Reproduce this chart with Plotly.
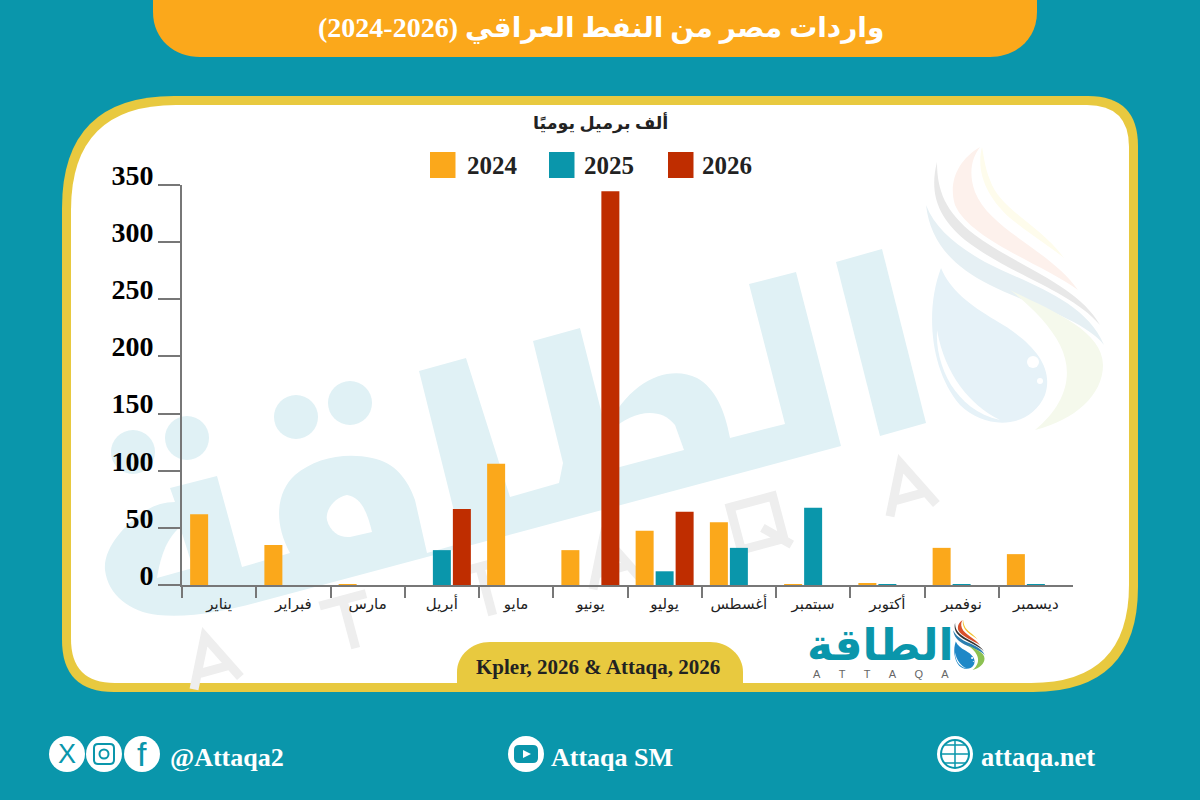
import re
import plotly.graph_objects as go

# %% Данные
months = ['يناير', 'فبراير', 'مارس', 'أبريل', 'مايو', 'يونيو',
          'يوليو', 'أغسطس', 'سبتمبر', 'أكتوبر', 'نوفمبر', 'ديسمبر']
years = ['2024', '2025', '2026']
v2024 = [62, 35, 0.2, 0, 106, 30.5, 47.5, 55, 0.2, 1.5, 32.5, 27]
v2025 = [0, 0, 0, 30.5, 0, 0, 12, 32.5, 67.5, 0.1, 0.1, 0.1]
v2026 = [0, 0, 0, 66.5, 0, 344.5, 64, None, None, None, None, None]
yticks = [0, 50, 100, 150, 200, 250, 300, 350]

ORANGE = '#FBA81B'
TEAL = '#0A96AB'
RED = '#BF2D00'
YELLOW = '#E8C93F'
PALE = '#E0F1F5'
AXIS = '#777777'
SERIF = 'Liberation Serif, DejaVu Sans'
colors = [ORANGE, TEAL, RED]
W, H = 1200, 800


# %% Пиксели -> paper
def px(x, y):
    return x / W, 1 - y / H


def path(d):
    def repl(m):
        x, y = px(float(m.group(1)), float(m.group(2)))
        return f'{x:.5f},{y:.5f}'
    return re.sub(r'(-?[\d.]+),(-?[\d.]+)', repl, d)


shapes = []
notes = []


def fill(d, color, layer='below'):
    shapes.append(dict(type='path', xref='paper', yref='paper', path=path(d),
                       fillcolor=color, line_width=0, layer=layer))


def stroke(d, color, width, layer='below'):
    shapes.append(dict(type='path', xref='paper', yref='paper', path=path(d),
                       line=dict(color=color, width=width), layer=layer))


def disc(cx, cy, r, color, layer='below', line=None, lw=0):
    x0, y0 = px(cx - r, cy - r)
    x1, y1 = px(cx + r, cy + r)
    shapes.append(dict(type='circle', xref='paper', yref='paper', x0=x0, y0=y0, x1=x1, y1=y1,
                       fillcolor=color, layer=layer, line=dict(color=line or color, width=lw)))


def rect(x0, y0, x1, y1, color, layer='below'):
    a, b = px(x0, y0)
    c, d = px(x1, y1)
    shapes.append(dict(type='rect', xref='paper', yref='paper', x0=a, y0=b, x1=c, y1=d,
                       fillcolor=color, line_width=0, layer=layer))


def label(x, y, text, size, color, anchor='center', family=SERIF, weight='bold'):
    a, b = px(x, y)
    notes.append(dict(x=a, y=b, xref='paper', yref='paper', text=text, showarrow=False,
                      xanchor=anchor, yanchor='middle',
                      font=dict(family=family, size=size, color=color, weight=weight)))


def frame(l, t, r, b, tl, tr, br, bl, color):
    fill(f'M {l+tl},{t} L {r-tr},{t} Q {r},{t} {r},{t+tr} L {r},{b-br} Q {r},{b} {r-br},{b} '
         f'L {l+bl},{b} Q {l},{b} {l},{b-bl} L {l},{t+tl} Q {l},{t} {l+tl},{t} Z', color)


# %% Рамки
fill('M 153,0 L 1037,0 L 1037,12 C 1037,40 1015,57 990,57 L 200,57 C 175,57 153,40 153,12 Z', ORANGE)
frame(62, 96, 1138, 692, 112, 50, 105, 52, YELLOW)
frame(71, 105, 1129, 683, 105, 42, 98, 44, 'white')
fill('M 457,683 L 457,672 C 457,655 472,642 490,642 L 710,642 C 728,642 743,655 743,672 L 743,683 Z', YELLOW)

# %% Водяной знак
fill('M 836,262 L 882,249 L 926,423 L 880,436 Z', PALE)
fill('M 749,284 L 796,272 L 841,446 L 255,603 C 225,611 190,618 158,615 C 130,612 108,595 105,570 '
     'C 103,548 125,525 142,513 C 152,506 163,502 175,502 L 170,488 L 217,476 L 242,567 L 290,553 '
     'C 272,520 278,490 295,475 C 315,458 345,452 372,458 C 395,462 408,480 415,500 L 427,553 '
     'L 462,543 L 419,371 L 466,358 L 510,497 L 559,483 L 563,463 L 533,341 L 580,328 L 606,430 '
     'C 630,378 670,365 697,378 C 715,388 725,410 730,438 L 785,424 Z', PALE)
fill('M 347,495 C 335,497 325,510 327,520 C 330,532 340,538 350,537 L 372,532 C 368,515 362,497 347,495 Z', 'white')
fill('M 612,430 C 630,412 660,405 675,425 L 684,450 L 616,468 Z', 'white')
fill('M 180,527 C 165,540 160,560 157,578 L 193,568 Z', 'white')
for cx, cy in [(133, 452), (187, 438), (296, 417), (350, 403)]:
    disc(cx, cy, 22, PALE)

# %% Буквы ATTAQA на фоне
GHOST = '#EEEEEE'
for cx, cy, ch in [(211, 660, 'A'), (349, 623, 'T'), (486, 590, 'T'),
                   (610, 560, 'A'), (757, 523, 'Q'), (907, 487, 'A')]:
    def g(u, v):
        return f'{cx + 0.966 * u + 0.259 * v:.1f},{cy - 0.259 * u + 0.966 * v:.1f}'
    if ch == 'A':
        stroke(f'M {g(-24, 24)} L {g(0, -24)} L {g(24, 24)} M {g(-14, 10)} L {g(14, 10)}', GHOST, 9)
    elif ch == 'T':
        stroke(f'M {g(-24, -24)} L {g(24, -24)} M {g(0, -24)} L {g(0, 26)}', GHOST, 9)
    else:
        stroke(f'M {g(-22, -22)} L {g(22, -22)} L {g(22, 22)} L {g(-22, 22)} Z '
               f'M {g(4, 6)} L {g(28, 30)}', GHOST, 9)


# %% Логотип: те же контуры в двух масштабах
def drop_logo(x0, y0, s, cols):
    def t(d):
        return re.sub(r'(-?[\d.]+),(-?[\d.]+)',
                      lambda m: f'{x0 + s * (float(m.group(1)) - 925):.1f},{y0 + s * (float(m.group(2)) - 147):.1f}', d)
    fill(t('M 982,147 C 975,175 990,200 1010,218 C 1035,238 1055,250 1064,258 C 1040,225 1000,210 990,180 C 985,168 984,157 982,147 Z'), cols[0])
    fill(t('M 980,147 C 958,160 948,182 955,205 C 970,240 1045,265 1078,290 C 1050,250 990,230 975,192 C 968,172 972,158 980,147 Z'), cols[1])
    fill(t('M 937,162 C 930,190 935,215 965,240 C 1010,275 1070,290 1100,325 C 1078,285 1015,265 975,235 C 945,212 937,190 937,162 Z'), cols[2])
    fill(t('M 926,205 C 930,240 950,265 990,285 C 1030,305 1085,320 1104,345 C 1085,300 1030,285 985,262 C 955,245 935,228 926,205 Z'), cols[3])
    fill(t('M 1010,290 C 1050,310 1103,330 1103,365 C 1103,395 1075,420 1035,430 C 1065,405 1075,375 1060,345 C 1050,325 1030,305 1010,290 Z'), cols[4])
    fill(t('M 941,268 C 925,310 930,370 960,405 C 985,430 1030,430 1045,395 C 1055,365 1030,340 995,320 C 970,305 950,290 941,268 Z'), cols[5])
    fill(t('M 937,330 C 935,365 955,410 1000,420 C 970,405 945,375 937,330 Z'), cols[6])
    disc(x0 + s * (1033 - 925), y0 + s * (362 - 147), s * 6, cols[6])
    disc(x0 + s * (1040 - 925), y0 + s * (381 - 147), s * 3, cols[6])


drop_logo(925, 147, 1.0, ['#FEFCEC', '#FDF1EC', '#E8E8E8', '#E6F0F4', '#F5F9EC', '#E6F2F8', 'white'])
drop_logo(953, 620, 0.177, ['#F2C230', '#D9502B', '#333333', '#2B7FB0', '#8CC152', '#1E88C7', 'white'])
label(880, 644, 'الطاقة', 44, TEAL, family='DejaVu Sans')
nb = '\u00a0' * 6
label(881, 674, nb.join('ATTAQA'), 11, '#666666', family='Liberation Sans', weight='normal')

# %% Заголовки
label(601, 28, '\u202bواردات مصر من النفط العراقي (2026-2024)\u202c', 28, 'white')
label(600, 123, 'ألف برميل يوميًا', 17.5, '#222222')
label(598, 667, 'Kpler, 2026 & Attaqa, 2026', 21, '#222222')

# %% Легенда
for year, col, sx, tx in zip(years, colors, [430, 549, 668], [465, 582, 700]):
    rect(sx, 152, sx + 25.5, 178, col)
    label(tx, 165, year, 25, '#222222', anchor='left')

# %% Низ страницы
for cx in [67, 104, 142, 526, 955]:
    disc(cx, 754, 18, 'white')
label(67, 754, 'X', 27, TEAL, family='Liberation Sans', weight='normal')
stroke('M 98,744 L 110,744 Q 114,744 114,748 L 114,760 Q 114,764 110,764 L 98,764 Q 94,764 94,760 L 94,748 Q 94,744 98,744 Z', TEAL, 2)
disc(104, 754, 4.5, 'white', line=TEAL, lw=2)
label(142, 754, 'f', 34, TEAL, family='Liberation Sans', weight='normal')
fill('M 519,745 L 533,745 Q 538,745 538,750 L 538,758 Q 538,763 533,763 L 519,763 Q 514,763 514,758 L 514,750 Q 514,745 519,745 Z', TEAL)
fill('M 523,750 L 531,754 L 523,758 Z', 'white')
disc(955, 754, 14, 'white', line=TEAL, lw=2)
stroke('M 941,754 L 969,754 M 955,740 L 955,768 M 945,745 L 965,745 M 945,763 L 965,763', TEAL, 1.5)
label(168, 757, '@Attaqa2', 26, 'white', anchor='left')
label(549, 757, 'Attaqa SM', 26, 'white', anchor='left')
label(979, 757, 'attaqa.net', 26.5, 'white', anchor='left')

# %% График
fig = go.Figure()
for year, values, col in zip(years, [v2024, v2025, v2026], colors):
    fig.add_bar(x=months, y=values, name=year, marker_color=col, marker_line_width=0)

fig.update_layout(
    width=W, height=H,
    margin=dict(l=0, r=0, t=0, b=0),
    paper_bgcolor=TEAL, plot_bgcolor='rgba(0,0,0,0)',
    barmode='group', bargap=0.192, bargroupgap=0.1,
    showlegend=False,
    shapes=shapes, annotations=notes,
    xaxis=dict(domain=[182 / W, 1073 / W], automargin=False, tickmode='array', tickvals=months, ticktext=months,
               tickson='boundaries', ticks='outside', ticklen=11, tickwidth=1.5, tickcolor=AXIS,
               showline=True, linecolor=AXIS, linewidth=2, showgrid=False, ticklabelstandoff=4,
               tickfont=dict(family='DejaVu Sans', size=15, color='#222222')),
    yaxis=dict(domain=[1 - 585 / H, 1 - 185 / H], automargin=False, range=[0, 350], tickvals=yticks,
               ticks='outside', ticklen=22, tickwidth=1.5, tickcolor=AXIS,
               showline=True, linecolor=AXIS, linewidth=2, showgrid=False, zeroline=False,
               ticklabelshift=-10, ticklabelstandoff=-1,
               tickfont=dict(family=SERIF, size=28, color='black', weight='bold')),
)

fig.write_html("out.html", config={'displayModeBar': False},
               post_script='document.body.style.margin = "0";')
